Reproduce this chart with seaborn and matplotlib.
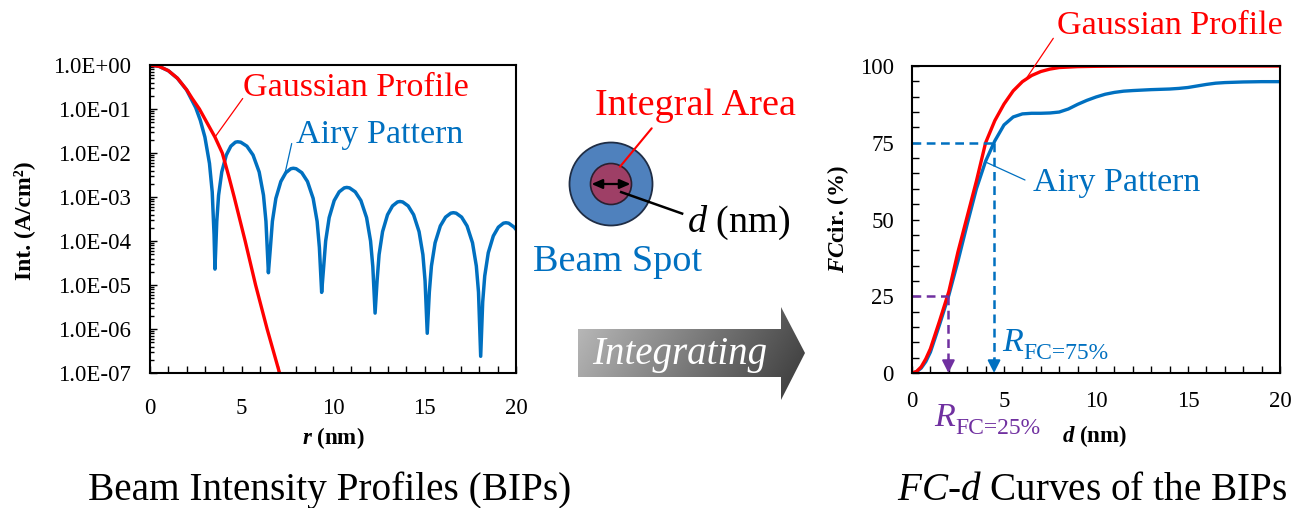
import numpy as np
import pandas as pd
import matplotlib
matplotlib.use("Agg")
import matplotlib.pyplot as plt
import seaborn as sns
from matplotlib.patches import Circle, Polygon
from matplotlib.colors import LinearSegmentedColormap
from matplotlib.ticker import (FixedLocator, FixedFormatter, LogLocator,
                               MultipleLocator, NullFormatter)

# ---------------- data ----------------
# Beam intensity profiles: radius r (nm) vs. intensity (A/cm^2)
airy_r = [0, 0.5, 1.0, 1.5, 2.0, 2.5, 2.75, 3.0, 3.25, 3.4, 3.5, 3.55,
          3.649, 3.748, 3.922, 4.17, 4.418, 4.666, 4.79, 4.958, 5.294, 5.63, 5.966, 6.201, 6.336, 6.47,
          6.579, 6.688, 6.878, 7.15, 7.422, 7.694, 7.83, 7.985, 8.295, 8.605, 8.915, 9.132, 9.256, 9.38,
          9.49, 9.599, 9.791, 10.065, 10.339, 10.613, 10.75, 10.905, 11.215, 11.525, 11.835, 12.052, 12.176, 12.3,
          12.409, 12.518, 12.708, 12.98, 13.252, 13.524, 13.66, 13.809, 14.107, 14.405, 14.703, 14.912, 15.031, 15.15,
          15.264, 15.379, 15.579, 15.865, 16.151, 16.437, 16.58, 16.729, 17.027, 17.325, 17.623, 17.832, 17.951, 18.07,
          18.18, 18.291, 18.484, 18.76, 19.036, 19.312, 19.45, 19.6, 19.9, 20.0]
airy_int = [1.0, 0.929, 0.742, 0.498, 0.271, 0.107, 0.0553, 0.023, 5.8e-3, 1.3e-3, 1.4e-4, 2.3e-5,
            2.8e-4, 1.1e-3, 3.7e-3, 9.0e-3, 1.43e-2, 1.76e-2, 1.8e-2, 1.76e-2, 1.43e-2, 9.0e-3, 3.7e-3, 1.1e-3, 2.8e-4, 1.9e-5,
            7.1e-5, 2.8e-4, 9.3e-4, 2.25e-3, 3.57e-3, 4.39e-3, 4.5e-3, 4.39e-3, 3.57e-3, 2.25e-3, 9.3e-4, 2.8e-4, 7.1e-5, 6.8e-6,
            2.6e-5, 1.0e-4, 3.4e-4, 8.3e-4, 1.31e-3, 1.61e-3, 1.65e-3, 1.61e-3, 1.31e-3, 8.3e-4, 3.4e-4, 1.0e-4, 2.6e-5, 2.3e-6,
            1.24e-5, 4.9e-5, 1.63e-4, 3.95e-4, 6.27e-4, 7.71e-4, 7.9e-4, 7.71e-4, 6.27e-4, 3.95e-4, 1.63e-4, 4.9e-5, 1.24e-5, 8.0e-7,
            6.9e-6, 2.7e-5, 9.1e-5, 2.2e-4, 3.49e-4, 4.29e-4, 4.4e-4, 4.29e-4, 3.49e-4, 2.2e-4, 9.1e-5, 2.7e-5, 6.9e-6, 2.4e-7,
            4.1e-6, 1.6e-5, 5.4e-5, 1.3e-4, 2.06e-4, 2.54e-4, 2.6e-4, 2.54e-4, 2.06e-4, 1.83e-4]
gauss_r = [0, 0.5, 1.0, 1.5, 2.0, 2.3, 2.7, 3.1, 3.55, 3.95, 4.3, 4.6, 5.2, 5.77, 6.4, 7.08, 7.2]
gauss_int = [1.0, 0.93, 0.745, 0.5, 0.275, 0.175, 0.1, 0.05, 0.023, 1.0e-2, 3.0e-3, 1.0e-3,
             1.0e-4, 1.0e-5, 1.0e-6, 1.0e-7, 6.0e-8]

# Encircled current fraction: diameter d (nm) vs. FCcir (%)
airy_d = [0, 0.25, 0.5, 0.75, 1.0, 1.5, 2.0, 2.5, 3.0, 3.5, 4.0, 4.5, 5.0, 5.5, 6.0, 6.5, 7.0, 7.5, 8.0, 8.5,
          9.0, 9.5, 10.0, 10.5, 11.0, 11.5, 12.0, 13.0, 14.0, 14.5, 15.0, 15.5, 16.0, 16.5, 17.0,
          17.5, 18.0, 19.0, 20.0]
airy_fc = [0, 0.4, 1.6, 3.7, 6.8, 15.8, 25.3, 36.5, 48.5, 60.0, 69.0, 75.6, 80.8, 83.4, 84.4, 84.6, 84.6, 84.7,
           85.0, 86.0, 87.5, 88.8, 89.9, 90.8, 91.4, 91.8, 92.0, 92.3, 92.5, 92.7, 93.0, 93.5, 94.0,
           94.4, 94.6, 94.7, 94.8, 94.9, 94.9]
gauss_d = [0, 0.25, 0.5, 0.75, 1.0, 1.5, 2.0, 2.5, 3.0, 3.5, 4.0, 4.5, 5.0, 5.5, 6.0, 6.5, 7.0, 7.5, 8.0,
           9.0, 10.0, 12.0, 15.0, 20.0]
gauss_fc = [0, 0.5, 2.0, 4.6, 7.9, 17.0, 26.5, 39.5, 51.0, 62.5, 75.0, 82.2, 87.6, 91.9, 94.9, 96.9, 98.2,
            99.0, 99.5, 99.8, 99.9, 100, 100, 100]

# diameters where the Airy curve reaches 25 % and 75 %
r_fc25 = 1.98
r_fc75 = 4.46

int_tick_vals = [1e0, 1e-1, 1e-2, 1e-3, 1e-4, 1e-5, 1e-6, 1e-7]
int_tick_labels = ["1.0E+00", "1.0E-01", "1.0E-02", "1.0E-03",
                   "1.0E-04", "1.0E-05", "1.0E-06", "1.0E-07"]
fc_tick_vals = [0, 25, 50, 75, 100]
fc_tick_labels = ["0", "25", "50", "75", "100"]

# ---------------- style ----------------
BLUE = "#0070C0"
RED = "#FF0000"
PURPLE = "#7030A0"

sns.set_theme(style="white")
plt.rcParams["font.family"] = ["Liberation Serif", "DejaVu Serif"]
plt.rcParams["mathtext.fontset"] = "custom"
plt.rcParams["mathtext.rm"] = "Liberation Serif"
plt.rcParams["mathtext.it"] = "Liberation Serif:italic"
plt.rcParams["mathtext.bf"] = "Liberation Serif:bold"
plt.rcParams["mathtext.bfit"] = "Liberation Serif:bold:italic"
for key in ["text.color", "axes.labelcolor", "xtick.color", "ytick.color"]:
    plt.rcParams[key] = "black"

W, H = 1302, 508
fig = plt.figure(figsize=(W / 100, H / 100), dpi=100)
fig.patch.set_facecolor("white")


def px_rect(x0, y0, x1, y1):
    return [x0 / W, 1 - y1 / H, (x1 - x0) / W, (y1 - y0) / H]


ax1 = fig.add_axes(px_rect(150, 65, 516, 373))
ax2 = fig.add_axes(px_rect(912, 66, 1280, 373))
ov = fig.add_axes([0, 0, 1, 1], zorder=5)
ov.patch.set_visible(False)
ov.axis("off")

# ---------------- left: intensity profiles ----------------
df_airy = pd.DataFrame({"r": airy_r, "I": airy_int})
df_gauss = pd.DataFrame({"r": gauss_r, "I": gauss_int})
sns.lineplot(data=df_airy, x="r", y="I", ax=ax1, color=BLUE, linewidth=2.5,
             estimator=None, sort=False)
sns.lineplot(data=df_gauss, x="r", y="I", ax=ax1, color=RED, linewidth=2.4,
             estimator=None, sort=False)
ax1.set_yscale("log")
ax1.set_xlim(0, 20)
ax1.set_ylim(1e-7, 1)
ax1.yaxis.set_major_locator(FixedLocator(int_tick_vals))
ax1.yaxis.set_major_formatter(FixedFormatter(int_tick_labels))
ax1.yaxis.set_minor_locator(LogLocator(base=10, subs=np.arange(2, 10), numticks=20))
ax1.yaxis.set_minor_formatter(NullFormatter())
ax1.xaxis.set_major_locator(MultipleLocator(5))
ax1.xaxis.set_minor_locator(MultipleLocator(1))
ax1.set_xlabel("")
ax1.set_ylabel("")

# ---------------- right: FC-d curves ----------------
df_afc = pd.DataFrame({"d": airy_d, "FC": airy_fc})
df_gfc = pd.DataFrame({"d": gauss_d, "FC": gauss_fc})
sns.lineplot(data=df_afc, x="d", y="FC", ax=ax2, color=BLUE, linewidth=2.4,
             estimator=None, sort=False)
sns.lineplot(data=df_gfc, x="d", y="FC", ax=ax2, color=RED, linewidth=2.4,
             estimator=None, sort=False)
ax2.set_xlim(0, 20)
ax2.set_ylim(0, 100)
ax2.yaxis.set_major_locator(FixedLocator(fc_tick_vals))
ax2.yaxis.set_major_formatter(FixedFormatter(fc_tick_labels))
ax2.yaxis.set_minor_locator(MultipleLocator(5))
ax2.xaxis.set_major_locator(MultipleLocator(5))
ax2.xaxis.set_minor_locator(MultipleLocator(1))
ax2.set_xlabel("")
ax2.set_ylabel("")

for ax in (ax1, ax2):
    for s in ax.spines.values():
        s.set_visible(True)
        s.set_color("black")
        s.set_linewidth(1.5)
    ax.tick_params(which="both", direction="in", left=True, bottom=True,
                   top=False, right=False, color="black", width=1)
    ax.tick_params(which="major", length=5, labelsize=16.5)
    ax.tick_params(axis="x", which="minor", length=5)
ax1.tick_params(axis="x", which="major", pad=18)
ax2.tick_params(axis="x", which="major", pad=13.3)
ax1.tick_params(axis="y", which="minor", length=3)
ax1.tick_params(axis="y", which="major", pad=14)
ax2.tick_params(axis="y", which="minor", length=5)
ax2.tick_params(axis="y", which="major", pad=13)

# R_FC guide lines with arrows
dash = (0, (3.5, 2.2))
for dval, fval, col in [(r_fc75, 75, BLUE), (r_fc25, 25, PURPLE)]:
    ax2.plot([0, dval], [fval, fval], color=col, lw=1.8, ls=dash)
    ax2.plot([dval, dval], [fval, 4], color=col, lw=1.8, ls=dash)
    ax2.annotate("", xy=(dval, 0), xytext=(dval, 4.5),
                 arrowprops=dict(arrowstyle="-|>,head_length=0.75,head_width=0.38",
                                 color=col, lw=1.5, shrinkA=0, shrinkB=0,
                                 mutation_scale=10))

# ---------------- labels in pixel space ----------------
def leader(ax, xy, start, color, lw=0.9):
    ax.annotate("", xy=xy, xycoords="data", xytext=start, textcoords=ov.transData,
                arrowprops=dict(arrowstyle="-", color=color, lw=lw,
                                shrinkA=0, shrinkB=0), annotation_clip=False)


ov.text(243, 96.5, "Gaussian Profile", color=RED, fontsize=24.5, va="baseline")
ov.text(296, 143.5, "Airy Pattern", color=BLUE, fontsize=24.5, va="baseline")
leader(ax1, (3.55, 0.023), (242.7, 98.5), RED)
leader(ax1, (7.38, 3.5e-3), (291.7, 143.5), BLUE)

ov.text(1057, 34.3, "Gaussian Profile", color=RED, fontsize=24.5, va="baseline")
ov.text(1033, 190.7, "Airy Pattern", color=BLUE, fontsize=24.5, va="baseline")
leader(ax2, (6.14, 95.3), (1053.3, 38.3), RED)
leader(ax2, (3.97, 68.8), (1025, 180), BLUE)

# R with subscripted FC level
ov.text(1002, 350.7, "R", color=BLUE, fontsize=24.5, fontstyle="italic", va="baseline")
ov.text(1023, 359.3, "FC=75%", color=BLUE, fontsize=17, va="baseline")
ov.text(934, 426, "R", color=PURPLE, fontsize=24.5, fontstyle="italic", va="baseline")
ov.text(955, 434, "FC=25%", color=PURPLE, fontsize=17, va="baseline")

# axis titles
ov.text(24, 221, "Int. (A/cm²)", rotation=90, fontsize=17, fontweight="bold",
        ha="center", va="center")
ov.text(333, 438, r"$\mathbfit{r}$ (nm)", fontsize=16.5, fontweight="bold",
        ha="center", va="center")
ov.text(838, 219, r"$\mathbfit{FC}$cir. (%)", rotation=90, fontsize=16.5,
        fontweight="bold", ha="center", va="center")
ov.text(1095, 436, r"$\mathbfit{d}$ (nm)", fontsize=16.5, fontweight="bold",
        ha="center", va="center")

# panel captions
ov.text(88, 500, "Beam Intensity Profiles (BIPs)", fontsize=28.3, va="baseline")
ov.text(897, 500, r"$FC$-$d$ Curves of the BIPs", fontsize=28.2, va="baseline")

# ---------------- beam spot sketch ----------------
ov.add_patch(Circle((611, 184), 41.5, facecolor="#4F81BD", edgecolor="#1F2D45", lw=1.3, zorder=2))
ov.add_patch(Circle((611, 184), 20.5, facecolor="#9E3F66", edgecolor="#2A2030", lw=1.2, zorder=3))
ov.annotate("", xy=(591.5, 184), xytext=(630.5, 184),
            arrowprops=dict(arrowstyle="<|-|>,head_length=0.8,head_width=0.35",
                            color="black", lw=1.6, shrinkA=0, shrinkB=0, mutation_scale=8),
            zorder=4)
ov.plot([620, 683.3], [191.7, 214], color="black", lw=1.8, zorder=4,
        solid_capstyle="butt")
ov.plot([620, 651.7], [166.7, 128.3], color=RED, lw=1.5, zorder=4)
ov.text(595, 115, "Integral Area", color=RED, fontsize=27.5, va="baseline")
ov.text(687, 231.7, r"$d$ (nm)", color="black", fontsize=27.5, va="baseline")
ov.text(533, 270.7, "Beam Spot", color=BLUE, fontsize=27.5, va="baseline")

# ---------------- "Integrating" arrow ----------------
arrow_pts = [(578, 329), (781, 329), (781, 307), (805, 353), (781, 400), (781, 377), (578, 377)]
arrow_poly = Polygon(arrow_pts, closed=True, facecolor="none", edgecolor="none", zorder=1)
ov.add_patch(arrow_poly)
gx = np.linspace(0, 1, 300)[None, :]
gy = np.linspace(0, 1, 120)[:, None]
grad = 0.8 * gx + 0.2 * gy
gray_cmap = LinearSegmentedColormap.from_list("grays", ["#BDBDBD", "#7A7A7A", "#383838"])
img = ov.imshow(grad, extent=(578, 805, 400, 307), cmap=gray_cmap, aspect="auto",
                interpolation="bilinear", zorder=1)
img.set_clip_path(arrow_poly)
ov.text(680, 364, "Integrating", color="white", fontsize=28, fontstyle="italic",
        ha="center", va="baseline", zorder=3)

ov.set_xlim(0, W)
ov.set_ylim(H, 0)

fig.savefig("out.png", dpi=100, facecolor="white")
